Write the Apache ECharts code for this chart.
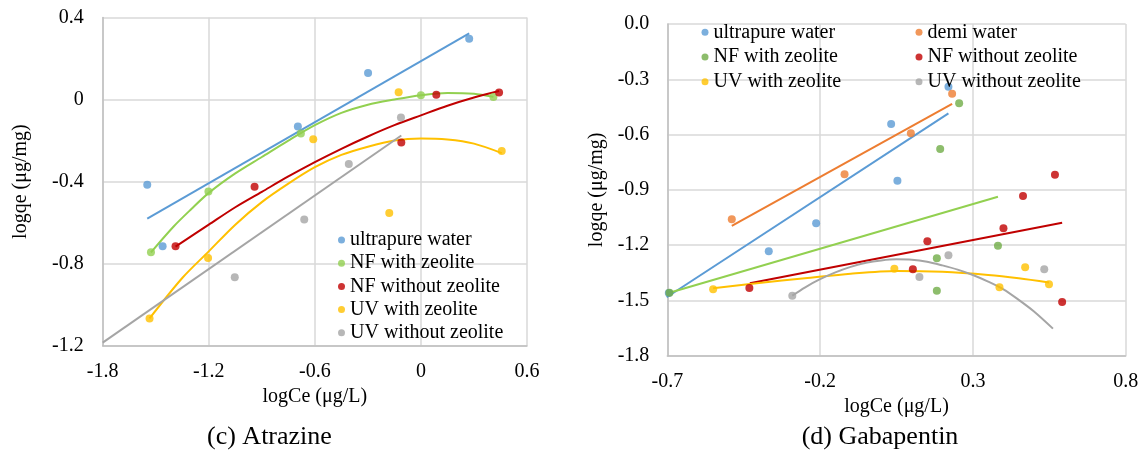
<!DOCTYPE html>
<html>
<head>
<meta charset="utf-8">
<script src="https://cdn.jsdelivr.net/npm/echarts@6/dist/echarts.min.js"></script>
<style>
  body { margin: 0; background: #fff; }
  #atrazine { position: absolute; left: 0; top: 0; width: 572px; height: 453px; }
  #gabapentin { position: absolute; left: 572px; top: 0; width: 573px; height: 453px; }
</style>
</head>
<body>
<div id="atrazine"></div>
<div id="gabapentin"></div>
<script>
// ---- (c) Atrazine: measured points ----
const atzUltraX = [-1.548, -1.461, -0.696, -0.299, 0.273];
const atzUltraY = [-0.415, -0.715, -0.131, 0.130, 0.297];
const atzNfWithX = [-1.527, -1.202, -0.679, 0.0, 0.41];
const atzNfWithY = [-0.745, -0.448, -0.165, 0.021, 0.013];
const atzNfWithoutX = [-1.388, -0.941, -0.111, 0.087, 0.442];
const atzNfWithoutY = [-0.715, -0.425, -0.209, 0.024, 0.034];
const atzUvWithX = [-1.535, -1.204, -0.609, -0.179, -0.126, 0.457];
const atzUvWithY = [-1.067, -0.772, -0.193, -0.553, 0.036, -0.251];
const atzUvWithoutX = [-1.053, -0.66, -0.408, -0.113];
const atzUvWithoutY = [-0.866, -0.585, -0.314, -0.088];

// ---- (c) Atrazine: trendlines ----
const atzUltraFitX = [-1.548, 0.273];
const atzUltraFitY = [-0.58, 0.323];
const atzNfWithFitX = [-1.527, -1.4, -1.3, -1.2, -1.05, -0.9, -0.75, -0.6, -0.45, -0.3, -0.15, 0.0, 0.15, 0.3, 0.41];
const atzNfWithFitY = [-0.745, -0.62, -0.535, -0.455, -0.36, -0.28, -0.2, -0.125, -0.065, -0.025, 0.0, 0.021, 0.032, 0.028, 0.013];
const atzNfWithoutFitX = [-1.388, -1.2, -1.05, -0.9, -0.75, -0.6, -0.45, -0.3, -0.15, 0.0, 0.15, 0.3, 0.442];
const atzNfWithoutFitY = [-0.717, -0.61, -0.525, -0.45, -0.375, -0.305, -0.24, -0.18, -0.125, -0.077, -0.03, 0.01, 0.042];
const atzUvWithFitX = [-1.535, -1.35, -1.2, -1.05, -0.9, -0.75, -0.6, -0.45, -0.3, -0.15, 0.0, 0.15, 0.3, 0.457];
const atzUvWithFitY = [-1.067, -0.87, -0.74, -0.61, -0.5, -0.41, -0.33, -0.27, -0.23, -0.2, -0.19, -0.195, -0.215, -0.261];
const atzUvWithoutFitX = [-1.8, -0.111];
const atzUvWithoutFitY = [-1.185, -0.175];

// ---- (d) Gabapentin: measured points ----
const gbpUltraX = [-0.695, -0.368, -0.213, 0.0325, 0.053, 0.220];
const gbpUltraY = [-1.46, -1.233, -1.081, -0.543, -0.850, -0.340];
const gbpDemiX = [-0.489, -0.12, 0.097, 0.232];
const gbpDemiY = [-1.060, -0.816, -0.593, -0.378];
const gbpNfWithX = [-0.693, 0.182, 0.182, 0.193, 0.255, 0.382];
const gbpNfWithY = [-1.458, -1.271, -1.447, -0.678, -0.430, -1.203];
const gbpNfWithoutX = [-0.4315, 0.1035, 0.151, 0.400, 0.464, 0.5685, 0.592];
const gbpNfWithoutY = [-1.432, -1.331, -1.179, -1.109, -0.933, -0.818, -1.508];
const gbpUvWithX = [-0.55, 0.043, 0.387, 0.471, 0.549];
const gbpUvWithY = [-1.44, -1.328, -1.429, -1.320, -1.412];
const gbpUvWithoutX = [-0.291, 0.125, 0.220, 0.5335];
const gbpUvWithoutY = [-1.474, -1.373, -1.255, -1.331];

// ---- (d) Gabapentin: trendlines ----
const gbpUltraFitX = [-0.702, 0.22];
const gbpUltraFitY = [-1.483, -0.485];
const gbpDemiFitX = [-0.489, 0.232];
const gbpDemiFitY = [-1.096, -0.434];
const gbpNfWithFitX = [-0.693, 0.382];
const gbpNfWithFitY = [-1.458, -0.937];
const gbpNfWithoutFitX = [-0.43, 0.592];
const gbpNfWithoutFitY = [-1.407, -1.078];
const gbpUvWithFitX = [-0.55, -0.4, -0.25, -0.1, 0.05, 0.2, 0.35, 0.45, 0.549];
const gbpUvWithFitY = [-1.434, -1.405, -1.38, -1.355, -1.34, -1.345, -1.362, -1.38, -1.403];
const gbpUvWithoutFitX = [-0.291, -0.25, -0.2, -0.15, -0.1, -0.05, 0.0, 0.05, 0.1, 0.15, 0.2, 0.25, 0.3, 0.35, 0.4, 0.45, 0.5, 0.562];
const gbpUvWithoutFitY = [-1.474, -1.43, -1.385, -1.348, -1.318, -1.296, -1.283, -1.277, -1.279, -1.29, -1.31, -1.333, -1.362, -1.398, -1.44, -1.497, -1.56, -1.653];

const FONT = "'Liberation Serif', 'Times New Roman', serif";
const BLUE = '#5b9bd5', ORANGE = '#ed7d31', LGREEN = '#92d050', DGREEN = '#70ad47',
      RED = '#c00000', YELLOW = '#ffc000', GREY = '#a5a5a5';

function pairs(xs, ys) {
  return xs.map((x, i) => [x, ys[i]]);
}

function dots(name, xs, ys, color) {
  return {
    name: name, type: 'scatter', data: pairs(xs, ys),
    symbol: 'circle', symbolSize: 8, z: 3,
    itemStyle: { color: color }
  };
}

function fit(name, xs, ys, color, smooth) {
  return {
    name: name + ' fit', type: 'line', data: pairs(xs, ys),
    symbol: 'none', smooth: smooth ? 0.3 : false, z: 2,
    lineStyle: { color: color, width: 2 }
  };
}

function axisCommon(labelMargin) {
  return {
    type: 'value',
    axisLine: { show: true, onZero: false, lineStyle: { color: '#bfbfbf', width: 1.5 } },
    axisTick: { show: false },
    splitLine: { show: true, lineStyle: { color: '#d9d9d9', width: 1.5 } },
    axisLabel: { fontFamily: FONT, fontSize: 20, color: '#000', margin: labelMargin },
    nameTextStyle: { fontFamily: FONT, fontSize: 20, color: '#000' },
    nameLocation: 'middle'
  };
}

function legendBox(left, top, gap, names) {
  return {
    orient: 'vertical', left: left, top: top, padding: 0,
    itemWidth: 7, itemHeight: 7, itemGap: gap, icon: 'circle',
    textStyle: { fontFamily: FONT, fontSize: 20, color: '#000', lineHeight: 20 },
    data: names
  };
}

// ---------- chart (c) ----------
const chartC = echarts.init(document.getElementById('atrazine'));
chartC.setOption({
  animation: false,
  title: {
    text: '(c) Atrazine', left: 207, top: 424, padding: 0,
    textStyle: { fontFamily: FONT, fontSize: 26, fontWeight: 'normal', color: '#000' }
  },
  legend: legendBox(338, 230, 3.2,
    ['ultrapure water', 'NF with zeolite', 'NF without zeolite', 'UV with zeolite', 'UV without zeolite']),
  grid: { left: 102.7, top: 17.5, width: 424.3, height: 328.2, outerBoundsMode: 'none' },
  xAxis: Object.assign(axisCommon(16), {
    min: -1.8, max: 0.6, interval: 0.6,
    name: 'logCe (μg/L)', nameGap: 41
  }),
  yAxis: Object.assign(axisCommon(19), {
    min: -1.2, max: 0.4, interval: 0.4,
    name: 'logqe (μg/mg)', nameGap: 72, nameRotate: 90
  }),
  series: [
    fit('ultrapure water', atzUltraFitX, atzUltraFitY, BLUE, false),
    fit('NF with zeolite', atzNfWithFitX, atzNfWithFitY, LGREEN, true),
    fit('NF without zeolite', atzNfWithoutFitX, atzNfWithoutFitY, RED, true),
    fit('UV with zeolite', atzUvWithFitX, atzUvWithFitY, YELLOW, true),
    fit('UV without zeolite', atzUvWithoutFitX, atzUvWithoutFitY, GREY, false),
    dots('ultrapure water', atzUltraX, atzUltraY, BLUE),
    dots('NF with zeolite', atzNfWithX, atzNfWithY, LGREEN),
    dots('NF without zeolite', atzNfWithoutX, atzNfWithoutY, RED),
    dots('UV with zeolite', atzUvWithX, atzUvWithY, YELLOW),
    dots('UV without zeolite', atzUvWithoutX, atzUvWithoutY, GREY)
  ]
});

// ---------- chart (d) ----------
const chartD = echarts.init(document.getElementById('gabapentin'));
chartD.setOption({
  animation: false,
  title: {
    text: '(d) Gabapentin', left: 229.7, top: 424, padding: 0,
    textStyle: { fontFamily: FONT, fontSize: 26, fontWeight: 'normal', color: '#000' }
  },
  legend: [
    legendBox(129.5, 22.3, 4.7, ['ultrapure water', 'NF with zeolite', 'UV with zeolite']),
    legendBox(343.5, 22.3, 4.7, ['demi water', 'NF without zeolite', 'UV without zeolite'])
  ],
  grid: { left: 95.3, top: 24, width: 458.4, height: 331.7, outerBoundsMode: 'none' },
  xAxis: Object.assign(axisCommon(16), {
    min: -0.7, max: 0.8, interval: 0.5,
    axisLabel: { fontFamily: FONT, fontSize: 20, color: '#000', margin: 16,
      formatter: v => v.toFixed(1) },
    name: 'logCe (μg/L)', nameGap: 33
  }),
  yAxis: Object.assign(axisCommon(18), {
    min: -1.8, max: 0, interval: 0.3,
    axisLabel: { fontFamily: FONT, fontSize: 20, color: '#000', margin: 18,
      formatter: v => v.toFixed(1) },
    name: 'logqe (μg/mg)', nameGap: 55, nameRotate: 90
  }),
  series: [
    fit('ultrapure water', gbpUltraFitX, gbpUltraFitY, BLUE, false),
    fit('demi water', gbpDemiFitX, gbpDemiFitY, ORANGE, false),
    fit('NF with zeolite', gbpNfWithFitX, gbpNfWithFitY, LGREEN, false),
    fit('NF without zeolite', gbpNfWithoutFitX, gbpNfWithoutFitY, RED, false),
    fit('UV with zeolite', gbpUvWithFitX, gbpUvWithFitY, YELLOW, true),
    fit('UV without zeolite', gbpUvWithoutFitX, gbpUvWithoutFitY, GREY, true),
    dots('ultrapure water', gbpUltraX, gbpUltraY, BLUE),
    dots('demi water', gbpDemiX, gbpDemiY, ORANGE),
    dots('NF with zeolite', gbpNfWithX, gbpNfWithY, DGREEN),
    dots('NF without zeolite', gbpNfWithoutX, gbpNfWithoutY, RED),
    dots('UV with zeolite', gbpUvWithX, gbpUvWithY, YELLOW),
    dots('UV without zeolite', gbpUvWithoutX, gbpUvWithoutY, GREY)
  ]
});
</script>
</body>
</html>
